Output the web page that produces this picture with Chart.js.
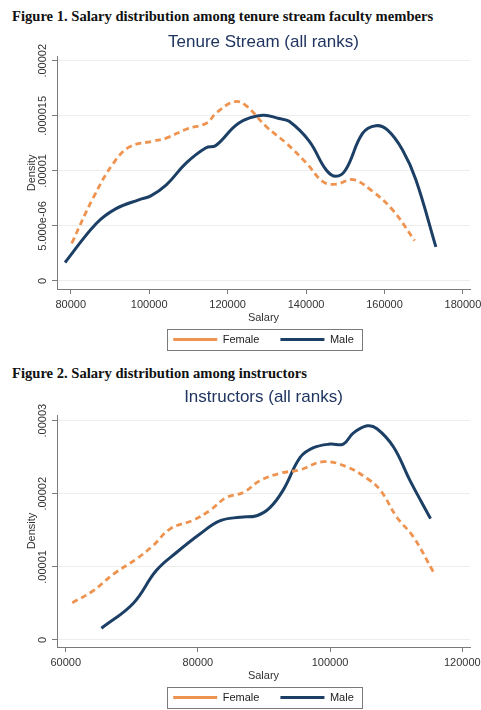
<!DOCTYPE html>
<html><head><meta charset="utf-8">
<script src="https://cdn.jsdelivr.net/npm/chart.js@4.4.1/dist/chart.umd.min.js"></script>
<style>
html,body{margin:0;padding:0;background:#fff;overflow:hidden;width:481px;height:710px;}
.cap{position:absolute;left:12px;font:bold 14.6px "Liberation Serif",serif;color:#111;white-space:nowrap;z-index:2;line-height:16px}
.wrap{position:absolute;left:0;width:481px}
</style></head><body>
<div class="cap" style="top:8px">Figure 1. Salary distribution among tenure stream faculty members</div>
<div class="cap" style="top:365px">Figure 2. Salary distribution among instructors</div>
<div class="wrap" style="top:28px"><canvas id="c1" width="481" height="327"></canvas></div>
<div class="wrap" style="top:383px"><canvas id="c2" width="481" height="330"></canvas></div>
<script>
// ---- Figure 1: Tenure stream ----
const tenureFemaleSalary = [80250, 85800, 90900, 95100, 101000, 104500, 109600, 114700, 117200, 121900, 124800, 129900, 135000, 140100, 144400, 147800, 152000, 157100, 162200, 167700];
const tenureFemaleDensity = [3.42e-6, 7.6e-6, 1.07e-5, 1.22e-5, 1.27e-5, 1.30e-5, 1.38e-5, 1.435e-5, 1.53e-5, 1.63e-5, 1.59e-5, 1.40e-5, 1.25e-5, 1.07e-5, 9.0e-6, 8.8e-6, 9.2e-6, 8.1e-6, 6.4e-6, 3.66e-6];
const tenureMaleSalary = [78550, 86460, 91560, 97520, 100300, 104300, 109400, 114500, 117000, 122900, 128900, 133100, 135700, 140800, 145100, 147600, 150100, 154400, 157800, 160800, 164600, 168000, 173100];
const tenureMaleDensity = [1.68e-6, 5.2e-6, 6.57e-6, 7.39e-6, 7.7e-6, 8.7e-6, 1.07e-5, 1.21e-5, 1.23e-5, 1.435e-5, 1.505e-5, 1.475e-5, 1.45e-5, 1.27e-5, 1.01e-5, 9.5e-6, 1.01e-5, 1.34e-5, 1.41e-5, 1.37e-5, 1.19e-5, 9.2e-6, 3.1e-6];
const tenureXTicks = [80000, 100000, 120000, 140000, 160000, 180000];
const tenureYTicks = [0, 5e-6, 1e-5, 1.5e-5, 2e-5];
const tenureYLabels = ["0", "5.000e-06", ".00001", ".000015", ".00002"];

// ---- Figure 2: Instructors ----
const instrFemaleSalary = [61000, 64100, 67200, 70700, 73200, 75800, 79300, 81800, 84300, 86900, 89400, 92400, 95500, 99000, 102500, 105600, 107600, 110100, 112600, 115700];
const instrFemaleDensity = [5.1e-6, 6.7e-6, 9.0e-6, 1.11e-5, 1.29e-5, 1.52e-5, 1.64e-5, 1.77e-5, 1.95e-5, 2.02e-5, 2.18e-5, 2.28e-5, 2.33e-5, 2.44e-5, 2.37e-5, 2.21e-5, 2.05e-5, 1.68e-5, 1.41e-5, 9.2e-6];
const instrMaleSalary = [65400, 70200, 73700, 76800, 80300, 83300, 86400, 88900, 90900, 92900, 95500, 97500, 100000, 102000, 103500, 105600, 107100, 109600, 112100, 115200];
const instrMaleDensity = [1.6e-6, 5.0e-6, 9.5e-6, 1.20e-5, 1.45e-5, 1.63e-5, 1.68e-5, 1.70e-5, 1.81e-5, 2.05e-5, 2.50e-5, 2.63e-5, 2.68e-5, 2.68e-5, 2.83e-5, 2.93e-5, 2.89e-5, 2.64e-5, 2.18e-5, 1.66e-5];
const instrXTicks = [60000, 80000, 100000, 120000];
const instrYTicks = [0, 1e-5, 2e-5, 3e-5];
const instrYLabels = ["0", ".00001", ".00002", ".00003"];

const FONT = '"Liberation Sans", Arial, sans-serif';
const ORANGE = '#ee9350';
const NAVY = '#1c3f66';
const TITLE = '#1f3560';
const AXIS = '#7a7a7a';

function zip(xs, ys) { return xs.map((x, i) => ({x: x, y: ys[i]})); }

const legendBox = {
  id: 'legendBox',
  afterDraw(chart) {
    const hb = chart.legend && chart.legend.legendHitBoxes;
    if (!hb || !hb.length) return;
    const c = chart.ctx;
    const x0 = Math.min(...hb.map(h => h.left)) - 6;
    const x1 = Math.max(...hb.map(h => h.left + h.width)) + 8;
    const y0 = Math.min(...hb.map(h => h.top)) - 5;
    const y1 = Math.max(...hb.map(h => h.top + h.height)) + 5;
    c.save();
    c.strokeStyle = AXIS; c.lineWidth = 1;
    c.strokeRect(Math.round(x0) + 0.5, Math.round(y0) + 0.5, Math.round(x1 - x0), Math.round(y1 - y0));
    c.restore();
  }
};

function makeChart(id, o) {
  const tl = 5;
  const m = document.createElement('canvas').getContext('2d');
  m.font = '11px ' + FONT;
  const widest = Math.max(...o.yLabels.map(t => m.measureText(t).width));
  const yPad = 57 - tl - 43.3 - widest / 2;
  return new Chart(document.getElementById(id), {
    type: 'line',
    data: { datasets: [
      {label: 'Female', data: zip(o.fx, o.fy), borderColor: ORANGE, backgroundColor: ORANGE, borderWidth: 2.8, borderDash: [6, 4], pointRadius: 0, tension: 0.4, fill: false},
      {label: 'Male', data: zip(o.mx, o.my), borderColor: NAVY, backgroundColor: NAVY, borderWidth: 3, pointRadius: 0, tension: 0.4, fill: false}
    ]},
    options: {
      responsive: false, animation: false, events: [],
      layout: {padding: 0},
      plugins: {
        title: {display: true, fullSize: false, text: o.title, color: TITLE, font: {family: FONT, size: 17, weight: 'normal'}, padding: {top: 3.8, bottom: o.titleBottom}},
        legend: {position: 'bottom', fullSize: false, labels: {usePointStyle: true, pointStyle: 'line', pointStyleWidth: 44, padding: 21, color: '#222', font: {family: FONT, size: 11}}},
        tooltip: {enabled: false}
      },
      scales: {
        x: {
          type: 'linear', min: o.xmin, max: o.xmax,
          afterBuildTicks: s => { s.ticks = o.xTicks.map(v => ({value: v})); },
          afterFit: s => { s.height = 24; s.paddingLeft = 0; s.paddingRight = 11; },
          ticks: {color: '#333', font: {family: FONT, size: 11}, padding: 4.4, maxRotation: 0, autoSkip: false, callback: v => String(v)},
          grid: {drawOnChartArea: false, drawTicks: true, tickLength: tl, tickColor: AXIS},
          border: {display: true, color: AXIS, width: 1},
          title: {display: true, text: 'Salary', color: '#333', font: {family: FONT, size: 11}, padding: {top: 0, bottom: -11.6}}
        },
        y: {
          type: 'linear', min: o.ymin, max: o.ymax,
          afterBuildTicks: s => { s.ticks = o.yTicks.map(v => ({value: v})); },
          afterFit: s => { s.width = 57; s.paddingTop = 0; s.paddingBottom = 0; },
          ticks: {minRotation: 90, maxRotation: 90, crossAlign: 'center', padding: yPad, color: '#333', font: {family: FONT, size: 11}, autoSkip: false, callback: (v, i) => o.yLabels[i]},
          grid: {color: '#ededed', lineWidth: 1, drawTicks: true, tickLength: tl, tickColor: AXIS},
          border: {display: true, color: AXIS, width: 1},
          title: {display: true, text: 'Density', color: '#333', font: {family: FONT, size: 11}, padding: {top: 25, bottom: 0}}
        }
      }
    },
    plugins: [legendBox]
  });
}

makeChart('c1', {
  title: 'Tenure Stream (all ranks)', titleBottom: 4.5,
  fx: tenureFemaleSalary, fy: tenureFemaleDensity, mx: tenureMaleSalary, my: tenureMaleDensity,
  xmin: 76500, xmax: 181800, ymin: -7.3e-7, ymax: 2.037e-5,
  xTicks: tenureXTicks, yTicks: tenureYTicks, yLabels: tenureYLabels
});
makeChart('c2', {
  title: 'Instructors (all ranks)', titleBottom: 7.8,
  fx: instrFemaleSalary, fy: instrFemaleDensity, mx: instrMaleSalary, my: instrMaleDensity,
  xmin: 58680, xmax: 121170, ymin: -9.6e-7, ymax: 3.078e-5,
  xTicks: instrXTicks, yTicks: instrYTicks, yLabels: instrYLabels
});
</script>
</body></html>
